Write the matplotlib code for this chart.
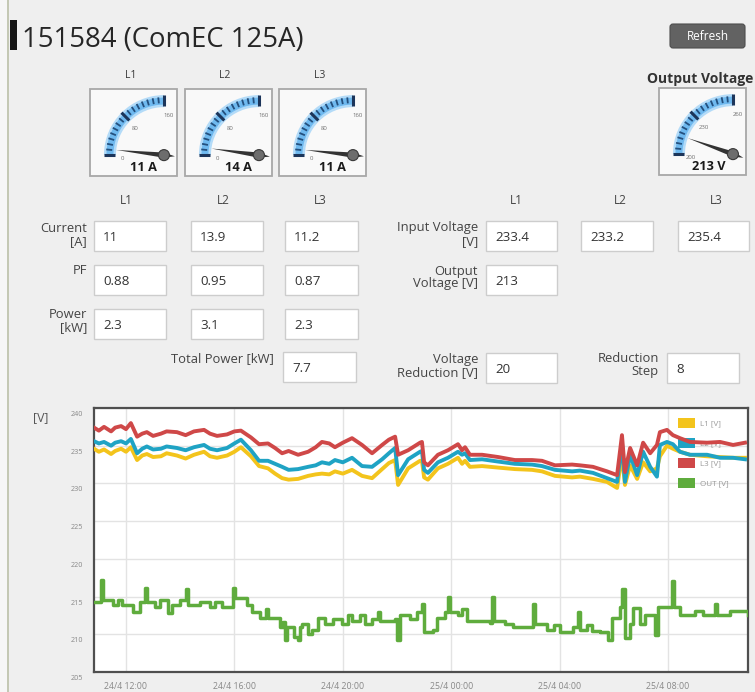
import numpy as np
import pandas as pd
import matplotlib
matplotlib.use("Agg")
import matplotlib.pyplot as plt
import matplotlib.dates as mdates
from matplotlib.patches import Rectangle, FancyBboxPatch, Wedge, Polygon, Circle, Patch
from matplotlib.ticker import FuncFormatter
from matplotlib.transforms import ScaledTranslation

plt.rcParams["font.family"] = ["Open Sans", "DejaVu Sans"]

phases = ["L1", "L2", "L3"]
current_a = ["11", "13.9", "11.2"]
power_factor = ["0.88", "0.95", "0.87"]
power_kw = ["2.3", "3.1", "2.3"]
total_power_kw = "7.7"
input_voltage = ["233.4", "233.2", "235.4"]
output_voltage = "213"
voltage_reduction = "20"
reduction_step = "8"

gauge_current = [11, 14, 11]
gauge_current_range = (0, 160)
gauge_voltage = 213
gauge_voltage_range = (200, 260)

# Verlauf: Stunden ab 24/4 00:00
hours_in = [10.82, 11.0, 11.19, 11.45, 11.6, 11.82, 12.0, 12.18, 12.41, 12.6,
            12.77, 13.0, 13.29, 13.5, 13.88, 14.2, 14.51, 14.88, 15.1, 15.36,
            15.73, 16.0, 16.24, 16.61, 16.91, 17.24, 17.5, 17.76, 18.0, 18.35,
            18.72, 19.0, 19.23, 19.5, 19.71, 20.0, 20.34, 20.71, 21.08, 21.45,
            21.7, 21.93, 22.04, 22.41, 22.85, 22.92, 23.0, 23.14, 23.51, 23.88,
            24.25, 24.4, 24.51, 24.69, 25.14, 25.73, 26.35, 26.98, 27.35, 27.83,
            28.46, 28.75, 29.23, 29.75, 30.12, 30.30, 30.41, 30.60, 30.86, 31.08,
            31.34, 31.59, 31.70, 31.96, 32.18, 32.44, 32.81, 33.44, 33.92, 34.40,
            34.84]
l1_v = [234.6, 234.2, 234.5, 233.9, 234.3, 234.6, 234.2, 234.8, 233.1, 233.7,
        233.9, 233.5, 233.6, 234.0, 233.7, 233.3, 233.8, 234.2, 233.6, 233.4,
        233.7, 234.2, 234.8, 233.6, 232.3, 232.0, 231.3, 230.7, 230.5, 230.6,
        231.0, 231.2, 231.3, 231.2, 231.6, 231.3, 231.8, 231.0, 230.7, 231.9,
        232.7, 233.1, 229.8, 232.0, 233.0, 233.0, 230.8, 230.5, 232.0, 232.6,
        233.4, 232.6, 233.0, 232.2, 232.3, 232.1, 231.9, 231.8, 231.6, 231.0,
        230.8, 230.9, 230.6, 230.2, 229.4, 233.8, 229.8, 232.4, 230.6, 232.8,
        231.6, 232.0, 233.6, 235.0, 234.6, 234.2, 233.8, 233.6, 233.5, 233.4,
        233.4]
l2_v = [235.6, 235.3, 235.5, 235.0, 235.4, 235.6, 235.3, 235.9, 234.0, 234.6,
        234.9, 234.5, 234.6, 234.9, 234.7, 234.4, 234.8, 235.1, 234.6, 234.4,
        234.7, 235.3, 235.8, 234.4, 233.0, 233.0, 232.6, 232.2, 231.8, 231.9,
        232.2, 232.4, 232.8, 232.6, 233.1, 232.8, 233.4, 232.3, 232.2, 233.2,
        234.0, 234.7, 231.1, 233.2, 234.2, 234.3, 231.8, 231.4, 232.8, 233.4,
        234.2, 233.8, 234.0, 233.1, 233.2, 232.9, 232.6, 232.5, 232.3, 231.8,
        231.6, 231.7, 231.4, 230.7, 230.2, 235.3, 230.2, 233.8, 231.1, 234.2,
        232.2, 230.9, 235.1, 235.5, 235.2, 234.2, 233.8, 233.8, 233.4, 233.4,
        233.2]
l3_v = [237.4, 237.0, 237.5, 236.9, 237.4, 237.6, 237.2, 238.0, 236.2, 236.6,
        236.8, 236.3, 236.6, 236.9, 236.8, 236.4, 236.9, 237.1, 236.6, 236.3,
        236.5, 236.9, 237.0, 236.1, 235.2, 235.3, 234.7, 234.0, 234.3, 233.8,
        234.2, 234.8, 235.5, 235.3, 234.8, 235.4, 236.0, 235.1, 234.0, 235.1,
        235.8, 236.2, 233.8, 234.4, 235.4, 235.5, 232.8, 232.4, 233.8, 234.4,
        235.2, 234.4, 234.8, 233.8, 233.8, 233.5, 233.1, 233.1, 233.0, 232.4,
        232.5, 232.4, 232.2, 231.6, 231.1, 236.4, 231.5, 234.7, 232.4, 235.4,
        234.0, 235.1, 236.8, 237.1, 236.4, 236.0, 235.5, 235.4, 235.5, 235.1,
        235.4]

hours_out = [10.82, 11.08, 11.15, 11.52, 11.70, 11.85, 12.26, 12.52, 12.70, 12.77,
             13.07, 13.25, 13.55, 13.70, 13.99, 14.21, 14.29, 14.73, 15.10, 15.28,
             15.54, 15.95, 16.02, 16.46, 16.65, 16.94, 17.17, 17.24, 17.68, 17.80,
             17.87, 17.95, 18.05, 18.20, 18.35, 18.42, 18.49, 18.70, 18.86, 19.08,
             19.34, 19.64, 19.97, 20.19, 20.34, 20.63, 20.82, 21.08, 21.30, 21.37,
             21.93, 22.00, 22.11, 22.48, 22.74, 22.92, 23.00, 23.33, 23.48, 23.77,
             23.88, 23.96, 24.25, 24.40, 24.58, 25.43, 25.51, 25.58, 25.99, 26.28,
             27.02, 27.09, 27.54, 27.80, 28.00, 28.27, 28.49, 28.68, 28.75, 29.00,
             29.20, 29.49, 29.79, 29.93, 30.23, 30.30, 30.41, 30.60, 30.71, 30.97,
             31.15, 31.52, 31.63, 32.15, 32.22, 32.44, 33.00, 33.30, 33.73, 33.81,
             34.30, 34.95]
out_v = [214.3, 217.2, 214.6, 213.9, 214.6, 213.9, 213.0, 214.3, 216.2, 214.3,
         213.6, 214.6, 212.8, 213.9, 214.6, 216.0, 213.9, 214.3, 213.6, 214.3,
         213.6, 216.2, 214.8, 213.9, 213.0, 212.2, 213.3, 212.2, 210.9, 211.6,
         209.2, 211.0, 210.9, 209.6, 209.3, 211.0, 211.3, 210.0, 210.6, 212.2,
         211.3, 212.0, 211.3, 212.6, 211.7, 212.6, 211.3, 212.0, 213.0, 211.7,
         212.0, 209.3, 212.6, 212.0, 213.0, 214.0, 210.3, 210.6, 212.2, 213.0,
         215.0, 213.0, 212.6, 213.3, 211.7, 211.5, 215.0, 211.7, 211.3, 211.0,
         214.0, 211.3, 210.6, 211.2, 210.3, 210.3, 211.0, 213.0, 210.6, 211.2,
         210.4, 210.3, 209.3, 212.2, 213.6, 216.0, 209.5, 211.3, 213.5, 211.3,
         212.6, 209.9, 213.6, 217.0, 213.6, 212.6, 213.1, 212.5, 214.0, 212.6,
         213.1, 212.6]

series_labels = ["L1 [V]", "L2 [V]", "L3 [V]", "OUT [V]"]
series_colors = ["#f3c41c", "#1fa3c4", "#cf4848", "#5fac3d"]

W, H = 755, 692
T0 = pd.Timestamp("2024-04-24")

fig = plt.figure(figsize=(W / 100, H / 100), dpi=100)
fig.patch.set_facecolor("#efefef")

# Pixel-Ebene fuer das Dashboard (y nach unten)
ui = fig.add_axes([0, 0, 1, 1])
ui.set_xlim(0, W)
ui.set_ylim(H, 0)
ui.axis("off")

ui.add_patch(Rectangle((0, 0), 6.5, H, fc="#f6f6f6", ec="none"))
ui.add_patch(Rectangle((6.5, 0), 2, H, fc="#c4c8b4", ec="none"))

# Titel + Button
ui.add_patch(Rectangle((10, 20), 7, 30, fc="#161616", ec="none"))
ui.text(22, 47, "151584 (ComEC 125A)", fontsize=19.8, color="#262626", va="baseline")
ui.add_patch(FancyBboxPatch((670, 24), 75, 24, boxstyle="round,pad=0,rounding_size=3",
                            fc="#626262", ec="#4d4d4d", lw=0.8))
ui.text(707.5, 36.5, "Refresh", fontsize=8.5, color="white", ha="center", va="center")


def gauge(x0, y0, vmin, vmax, value, tick_texts, text, tdx):
    w = 87
    ui.add_patch(Rectangle((x0, y0), w, w, fc="#f9f9f9", ec="#a8a8a8", lw=1.3))
    px, py = x0 + 0.85 * w, y0 + 0.76 * w
    R = 60
    ui.add_patch(Wedge((px, py), R, 180, 270, width=12, fc="#b3dbf8", ec="none"))
    ui.add_patch(Wedge((px, py), R - 2.5, 180, 270, width=7, fc="#6fb9ef", ec="none"))
    for i in range(17):
        s = np.radians(180 - 90 * i / 16)
        c, sn = np.cos(s), np.sin(s)
        if i % 8 == 0:
            r1, r2, lw, col = R - 11, R, 2.2, "#1c355a"
        else:
            r1, r2, lw, col = R - 8, R - 2, 1.3, "#24507e"
        ui.plot([px + r1 * c, px + r2 * c], [py - r1 * sn, py - r2 * sn],
                color=col, lw=lw, solid_capstyle="butt")
    for (dx, dy), t in zip([(-42, 3), (-29, -27), (5, -40)], tick_texts):
        ui.text(px + dx, py + dy, t, fontsize=4.3, color="#707070",
                ha="center", va="center")
    s = np.radians(180 - 90 * (value - vmin) / (vmax - vmin))
    d = np.array([np.cos(s), -np.sin(s)])
    n = np.array([d[1], -d[0]])
    p = np.array([px, py])
    ui.add_patch(Polygon([p + 48 * d, p + 2.6 * n, p - 11 * d, p - 2.6 * n],
                         closed=True, fc="#333333", ec="none"))
    ui.add_patch(Circle((px, py), 5.5, fc="#6d6d6d", ec="#3a3a3a", lw=0.8))
    ui.text(px + tdx, py + 12, text, fontsize=9.2, fontweight="bold", color="#1a1a1a",
            ha="center", va="center")


gauge_x = [90, 185, 279]
gauge_lbl_x = [131, 225, 320]
for gx, lx, ph, val in zip(gauge_x, gauge_lbl_x, phases, gauge_current):
    ui.text(lx, 75, ph, fontsize=7.5, color="#3a3a3a", ha="center", va="center")
    gauge(gx, 89, *gauge_current_range, val, ["0", "80", "160"], f"{val} A", -21)

ui.text(647, 79, "Output Voltage", fontsize=10.0, fontweight="bold", color="#333333",
        va="center")
gauge(659, 88, *gauge_voltage_range, gauge_voltage, ["200", "230", "260"],
      f"{gauge_voltage} V", -24)


def field(x0, y0, x1, txt):
    ui.add_patch(Rectangle((x0, y0), x1 - x0, 30, fc="white", ec="#cdcdcd", lw=1))
    ui.text(x0 + 9, y0 + 16.5, txt, fontsize=9.6, color="#333333", va="center")


def label(xr, ys, lines):
    for y, t in zip(ys, lines):
        ui.text(xr, y, t, fontsize=9.4, color="#444444", ha="right", va="center")


# linke Tabelle
col_l = [(94, 166), (191, 263), (285, 358)]
for a, ph in zip([126, 223, 320], phases):
    ui.text(a, 201, ph, fontsize=8.5, color="#444444", ha="center", va="center")
rows_y = [221, 265, 309]
for (x0, x1), vals in zip(col_l, zip(current_a, power_factor, power_kw)):
    for y0, v in zip(rows_y, vals):
        field(x0, y0, x1, v)
label(87, [228, 242], ["Current", "[A]"])
label(87, [271], ["PF"])
label(87, [315, 328], ["Power", "[kW]"])
label(274, [359], ["Total Power [kW]"])
field(283, 352, 356, total_power_kw)

# rechte Tabelle
col_r = [(486, 557), (581, 653), (678, 749)]
for a, ph in zip([516, 620, 716], phases):
    ui.text(a, 201, ph, fontsize=8.5, color="#444444", ha="center", va="center")
for (x0, x1), v in zip(col_r, input_voltage):
    field(x0, 221, x1, v)
label(478, [228, 242], ["Input Voltage", "[V]"])
field(486, 265, 557, output_voltage)
label(478, [271, 284], ["Output", "Voltage [V]"])
field(486, 353, 557, voltage_reduction)
label(478, [360, 373], ["Voltage", "Reduction [V]"])
field(667, 353, 739, reduction_step)
label(659, [359, 372], ["Reduction", "Step"])

ui.text(33, 418, "[V]", fontsize=8.8, color="#555555", va="center")

# ---- Verlaufsdiagramm ----
ax = fig.add_axes([94 / W, 1 - 672 / H, 654 / W, 264 / H])
ax.set_facecolor("white")
t_in = T0 + pd.to_timedelta(hours_in, unit="h")
t_out = T0 + pd.to_timedelta(hours_out, unit="h")
for vals, col in zip([l1_v, l2_v, l3_v], series_colors[:3]):
    ax.plot(t_in, vals, color=col, lw=2.8, zorder=3)
ax.step(t_out, out_v, where="post", color=series_colors[3], lw=2.5, zorder=3)

ax.set_ylim(205, 240)
ax.set_yticks(range(205, 241, 5))
ax.set_xlim(T0 + pd.Timedelta(hours=10.82), T0 + pd.Timedelta(hours=34.95))
ax.xaxis.set_major_locator(mdates.HourLocator(byhour=[0, 4, 8, 12, 16, 20]))


def fmt_time(v, _):
    d = mdates.num2date(v)
    return f"{d.day}/{d.month} {d:%H:%M}"


ax.xaxis.set_major_formatter(FuncFormatter(fmt_time))
ax.grid(color="#e3e3e3", lw=1)
ax.set_axisbelow(True)
ax.tick_params(axis="y", length=0, labelsize=5.2, labelcolor="#888888", pad=8)
ax.tick_params(axis="x", length=0, labelsize=6.3, labelcolor="#888888", pad=7)
for lbl in ax.get_yticklabels():
    lbl.set_transform(lbl.get_transform() + ScaledTranslation(0, -4 / 72, fig.dpi_scale_trans))
for sp in ax.spines.values():
    sp.set_color("#4f4f4f")
    sp.set_linewidth(1.6)

handles = [Patch(fc=c, ec="none") for c in series_colors]
leg = ax.legend(handles, series_labels, loc="upper left", bbox_to_anchor=(0.893, 0.962),
                frameon=False, fontsize=5.8, handlelength=2.1, handleheight=1.5,
                labelspacing=1.25, handletextpad=0.6, borderaxespad=0, borderpad=0)
leg.set_zorder(2)
for t in leg.get_texts():
    t.set_color("#999999")

fig.savefig("out.png", dpi=100, facecolor=fig.get_facecolor())
